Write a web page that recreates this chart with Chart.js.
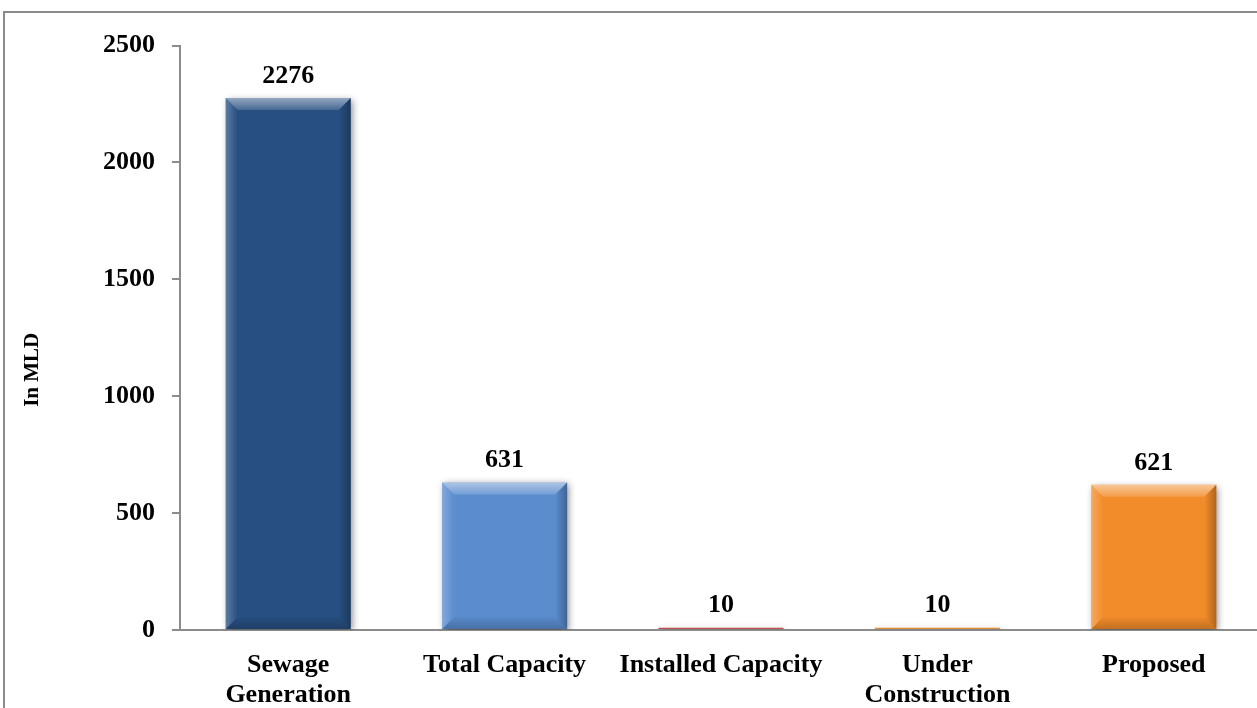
<!DOCTYPE html>
<html>
<head>
<meta charset="utf-8">
<script src="https://cdn.jsdelivr.net/npm/chart.js@4.4.1/dist/chart.umd.min.js"></script>
<style>
  html, body { margin: 0; padding: 0; background: #fff; overflow: hidden; }
  #frame {
    position: absolute; left: 3px; top: 11px;
    width: 1275px; height: 720px;
    border: 2px solid #8c8c8c;
  }
</style>
</head>
<body>
<div id="frame"><canvas id="mld" width="1275" height="720"></canvas></div>
<script>
  // ---- data ----
  const categories = [['Sewage', 'Generation'], 'Total Capacity', 'Installed Capacity', ['Under', 'Construction'], 'Proposed'];
  const values = [2276, 631, 10, 10, 621];
  const barColors = ['#274F81', '#5A8CCE', '#C0504D', '#E58A34', '#F28C2A'];
  const yTicks = [0, 500, 1000, 1500, 2000, 2500];
  const yTitle = 'In MLD';

  const FAMILY = '"Liberation Serif", "Times New Roman", serif';
  const FONT = 'bold 26px ' + FAMILY;

  // shadow under bars
  const shadowPlugin = {
    id: 'shadow',
    beforeDatasetsDraw(chart) {
      const ctx = chart.ctx;
      ctx.save();
      ctx.shadowColor = 'rgba(0,0,0,0.45)';
      ctx.shadowBlur = 7;
      ctx.shadowOffsetX = 2;
      ctx.shadowOffsetY = 2;
    },
    afterDatasetsDraw(chart) {
      chart.ctx.restore();
    }
  };

  // bevel look on top of each bar + value labels + rotated axis title
  const bevelPlugin = {
    id: 'bevel',
    afterDatasetsDraw(chart) {
      const ctx = chart.ctx;
      const meta = chart.getDatasetMeta(0);
      meta.data.forEach((bar, i) => {
        const l = bar.x - bar.width / 2, r = bar.x + bar.width / 2;
        const t = Math.min(bar.y, bar.base), b = Math.max(bar.y, bar.base);
        const s = Math.min(12, (b - t) / 2);
        if (s >= 1) {
          const poly = (pts, fill) => {
            ctx.beginPath();
            ctx.moveTo(pts[0][0], pts[0][1]);
            for (let k = 1; k < pts.length; k++) ctx.lineTo(pts[k][0], pts[k][1]);
            ctx.closePath();
            ctx.fillStyle = fill;
            ctx.fill();
          };
          let g = ctx.createLinearGradient(0, t, 0, t + s);
          g.addColorStop(0, 'rgba(255,255,255,0.5)');
          g.addColorStop(1, 'rgba(255,255,255,0.15)');
          poly([[l, t], [r, t], [r - s, t + s], [l + s, t + s]], g);
          g = ctx.createLinearGradient(0, b - s, 0, b);
          g.addColorStop(0, 'rgba(0,0,0,0.02)');
          g.addColorStop(1, 'rgba(0,0,0,0.2)');
          poly([[l, b], [r, b], [r - s, b - s], [l + s, b - s]], g);
          g = ctx.createLinearGradient(l, 0, l + s, 0);
          g.addColorStop(0, 'rgba(255,255,255,0.25)');
          g.addColorStop(1, 'rgba(255,255,255,0.0)');
          poly([[l, t], [l + s, t + s], [l + s, b - s], [l, b]], g);
          g = ctx.createLinearGradient(r - s, 0, r, 0);
          g.addColorStop(0, 'rgba(0,0,0,0.0)');
          g.addColorStop(1, 'rgba(0,0,0,0.28)');
          poly([[r, t], [r - s, t + s], [r - s, b - s], [r, b]], g);
        }
        // value label
        ctx.save();
        ctx.font = FONT;
        ctx.fillStyle = '#000';
        ctx.textAlign = 'center';
        ctx.textBaseline = 'middle';
        ctx.fillText(String(values[i]), bar.x, t - 22);
        ctx.restore();
      });
      // y title
      const ca = chart.chartArea;
      ctx.save();
      ctx.font = 'bold 21px ' + FAMILY;
      ctx.fillStyle = '#000';
      ctx.translate(ca.left - 147, (ca.top + ca.bottom) / 2 + 32);
      ctx.rotate(-Math.PI / 2);
      ctx.textAlign = 'center';
      ctx.textBaseline = 'middle';
      ctx.fillText(yTitle, 0, 0);
      ctx.restore();
    }
  };

  new Chart(document.getElementById('mld'), {
    type: 'bar',
    data: {
      labels: categories,
      datasets: [{
        data: values,
        backgroundColor: barColors,
        borderWidth: 0,
        categoryPercentage: 1,
        barPercentage: 0.578
      }]
    },
    options: {
      responsive: false,
      animation: false,
      devicePixelRatio: 1,
      layout: { padding: { top: 32, right: 18, left: 0, bottom: 0 } },
      plugins: {
        legend: { display: false },
        tooltip: { enabled: false }
      },
      scales: {
        x: {
          grid: { display: false, drawTicks: false },
          border: { display: true, color: '#8c8c8c', width: 2 },
          ticks: {
            color: '#000',
            font: { family: FAMILY, size: 26, weight: 'bold', lineHeight: 1.15 },
            padding: 20,
            maxRotation: 0,
            autoSkip: false
          },
          afterFit: s => { s.height = 103; }
        },
        y: {
          min: 0,
          max: 2500,
          afterBuildTicks: s => { s.ticks = yTicks.map(v => ({ value: v })); },
          grid: { drawOnChartArea: false, drawTicks: true, tickLength: 8, color: '#8c8c8c', lineWidth: 2 },
          border: { display: true, color: '#8c8c8c', width: 2 },
          ticks: {
            color: '#000',
            font: { family: FAMILY, size: 26, weight: 'bold' },
            padding: 17,
            callback: v => String(v)
          },
          afterFit: s => { s.width = 175; }
        }
      }
    },
    plugins: [shadowPlugin, bevelPlugin]
  });
</script>
</body>
</html>
